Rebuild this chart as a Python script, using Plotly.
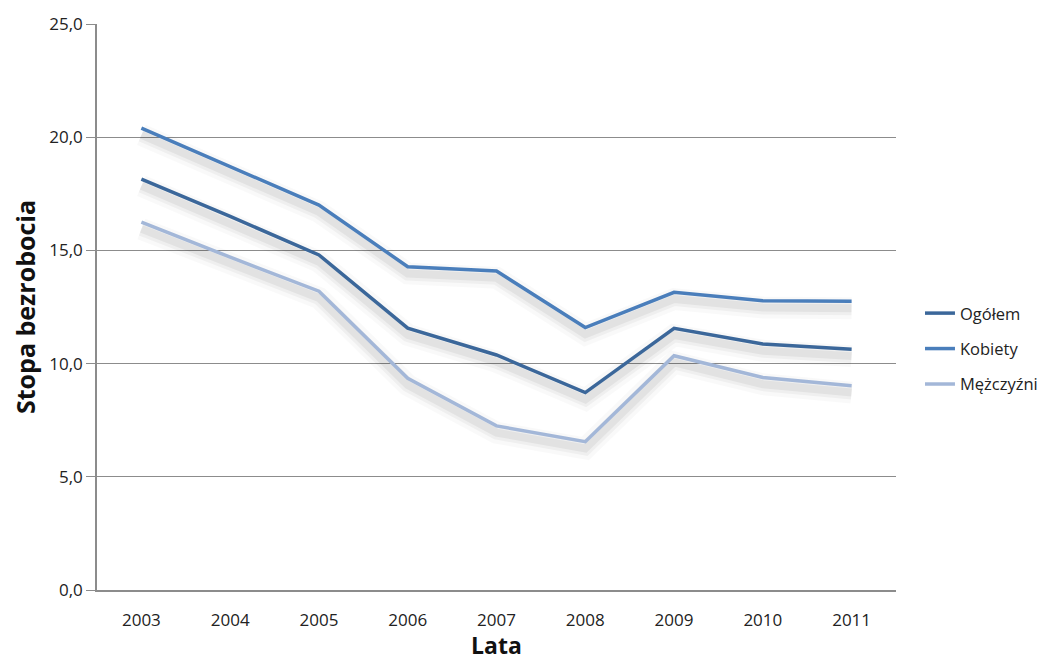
import plotly.graph_objects as go

years = ["2003", "2004", "2005", "2006", "2007", "2008", "2009", "2010", "2011"]
ogolem = [18.15, 16.5, 14.8, 11.57, 10.38, 8.72, 11.56, 10.87, 10.63]
kobiety = [20.4, 18.7, 17.0, 14.28, 14.09, 11.59, 13.15, 12.78, 12.75]
mezczyzni = [16.25, 14.7, 13.2, 9.35, 7.25, 6.55, 10.35, 9.39, 9.02]

series = [
    ("Ogółem", ogolem, "#3b679a"),
    ("Kobiety", kobiety, "#4a7ebb"),
    ("Mężczyźni", mezczyzni, "#a3b7d8"),
]

fig = go.Figure()
# soft shadows
for name, vals, col in series:
    for w, a in [(22, 0.025), (14, 0.04), (8, 0.05)]:
        fig.add_trace(go.Scatter(
            x=years, y=[v - 0.3 for v in vals], mode="lines",
            line=dict(color=f"rgba(0,0,0,{a})", width=w),
            showlegend=False, hoverinfo="skip"))
for i, (name, vals, col) in enumerate(series):
    fig.add_trace(go.Scatter(
        x=years, y=vals, mode="lines", name=name,
        line=dict(color=col, width=3.5), legendgroup=f"g{i}"))

fig.update_layout(
    width=1047, height=653,
    margin=dict(l=89, r=157, t=16, b=71),
    plot_bgcolor="white", paper_bgcolor="white",
    font=dict(family="Open Sans, DejaVu Sans, sans-serif", size=17, color="#222"),
    legend=dict(x=1.03, y=0.426, yanchor="middle", xanchor="left",
                tracegroupgap=11, font=dict(size=16.5, color="#222"),
                itemwidth=30, traceorder="grouped"),
    xaxis=dict(type="category", range=[-0.5, 8.5], showgrid=False,
               showline=True, linecolor="#8c8c8c", linewidth=1.5,
               ticks="outside", ticklen=14, tickcolor="rgba(0,0,0,0)",
               tickfont=dict(size=17), automargin=False,
               title=dict(text="<b>Lata</b>", font=dict(size=23, color="#111"), standoff=4)),
    yaxis=dict(range=[0, 25], dtick=5, tickformat=".1f",
               showgrid=True, gridcolor="#8c8c8c", gridwidth=1,
               showline=True, linecolor="#8c8c8c", linewidth=1.5,
               ticks="outside", ticklen=9, tickcolor="#8c8c8c",
               tickfont=dict(size=17), automargin=False,
               title=dict(text="<b>Stopa bezrobocia</b>", font=dict(size=25, color="#111"), standoff=12)),
    separators=", ",
)

fig.write_html("out.html")
